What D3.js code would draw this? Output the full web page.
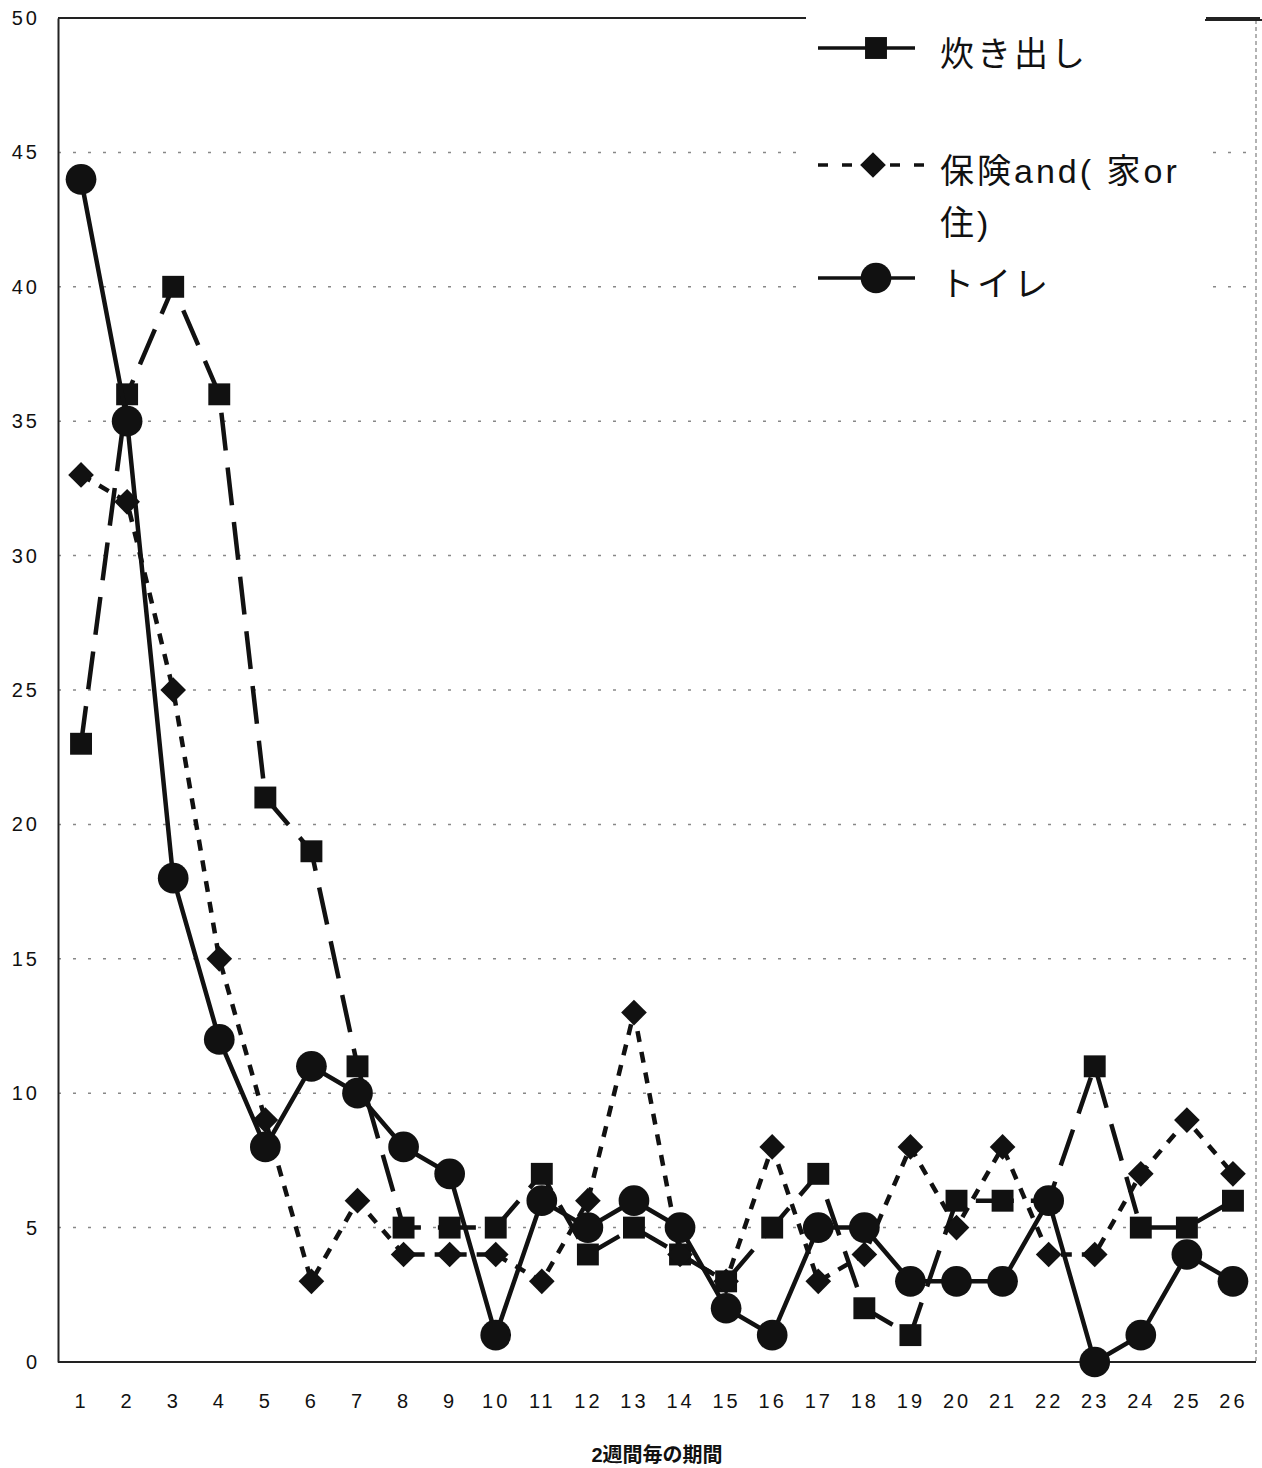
<!DOCTYPE html>
<html>
<head>
<meta charset="utf-8">
<script src="https://cdn.jsdelivr.net/npm/d3@7"></script>
<style>
  html, body { margin: 0; padding: 0; background: #fff; }
  svg { display: block; }
  text { font-family: "Liberation Sans", Arial, "Noto Sans CJK JP", sans-serif; fill: #111; }
  .jp { font-family: "Liberation Sans", Arial, "Noto Sans CJK JP", sans-serif; }
</style>
</head>
<body>
<svg id="chart" width="1262" height="1468"></svg>
<script>
// Periods (two-week intervals)
const periods = d3.range(1, 27);

// Series values per period
const takidashi = [23, 36, 40, 36, 21, 19, 11, 5, 5, 5, 7, 4, 5, 4, 3, 5, 7, 2, 1, 6, 6, 6, 11, 5, 5, 6];
const hoken     = [33, 32, 25, 15, 9, 3, 6, 4, 4, 4, 3, 6, 13, 4, 3, 8, 3, 4, 8, 5, 8, 4, 4, 7, 9, 7];
const toilet    = [44, 35, 18, 12, 8, 11, 10, 8, 7, 1, 6, 5, 6, 5, 2, 1, 5, 5, 3, 3, 3, 6, 0, 1, 4, 3];

const yTicks = [0, 5, 10, 15, 20, 25, 30, 35, 40, 45, 50];
const seriesNames = ["炊き出し", "保険and( 家or", "トイレ"];
const xTitle = "2週間毎の期間";

const svg = d3.select("#chart");
const plotL = 58, plotR = 1256, plotT = 18, plotB = 1362;

const x = d3.scalePoint().domain(periods).range([plotL, plotR]).padding(0.5);
const y = d3.scaleLinear().domain([0, 50]).range([plotB, plotT]);

// diamond marker: a square turned 45 degrees
const diamond = {
  draw(ctx, size) {
    const r = Math.sqrt(size / 2);
    ctx.moveTo(0, -r); ctx.lineTo(r, 0); ctx.lineTo(0, r); ctx.lineTo(-r, 0); ctx.closePath();
  }
};

// dotted horizontal gridlines
svg.append("g").selectAll("line")
  .data(yTicks.filter(d => d > 0 && d < 50))
  .join("line")
  .attr("x1", plotL).attr("x2", plotR)
  .attr("y1", d => y(d)).attr("y2", d => y(d))
  .attr("stroke", "#888").attr("stroke-width", 1.5)
  .attr("stroke-dasharray", "3,12");

// right border (faint dotted)
svg.append("line")
  .attr("x1", plotR).attr("x2", plotR).attr("y1", plotT + 2).attr("y2", plotB)
  .attr("stroke", "#999").attr("stroke-width", 1.5).attr("stroke-dasharray", "4,3");

// top border
svg.append("line")
  .attr("x1", plotL).attr("x2", plotR + 4).attr("y1", plotT).attr("y2", plotT)
  .attr("stroke", "#222").attr("stroke-width", 2);

// y axis
const yAxis = svg.append("g")
  .attr("transform", `translate(${plotL},0)`)
  .call(d3.axisLeft(y).tickValues(yTicks).tickSize(0).tickPadding(18));
yAxis.select(".domain").attr("stroke", "#222").attr("stroke-width", 2);
yAxis.selectAll("text")
  .style("font-size", "20px").style("letter-spacing", "3px")
  .attr("fill", "#111");

// x axis
const xAxis = svg.append("g")
  .attr("transform", `translate(0,${plotB})`)
  .call(d3.axisBottom(x).tickSize(0).tickPadding(32));
xAxis.select(".domain").attr("stroke", "#222").attr("stroke-width", 2)
  .attr("d", `M${plotL},0H${plotR}`);
xAxis.selectAll("text")
  .style("font-size", "20px").style("letter-spacing", "3px")
  .attr("fill", "#111");

// x axis title
svg.append("text")
  .attr("class", "jp")
  .attr("x", 657).attr("y", 1462)
  .attr("text-anchor", "middle")
  .style("font-size", "20px").style("font-weight", "bold")
  .text(xTitle);

const line = d3.line().x((d, i) => x(periods[i])).y(d => y(d));

const series = [
  { name: seriesNames[0], values: takidashi, dash: "38,17", symbol: d3.symbolSquare, size: 480 },
  { name: seriesNames[1], values: hoken,     dash: "11,10", symbol: diamond, size: 330 },
  { name: seriesNames[2], values: toilet,    dash: null,   symbol: d3.symbolCircle, size: 740 }
];

series.forEach(s => {
  const g = svg.append("g");
  g.append("path")
    .datum(s.values)
    .attr("d", line)
    .attr("fill", "none")
    .attr("stroke", "#111")
    .attr("stroke-width", 4.5)
    .attr("stroke-dasharray", s.dash);
  g.selectAll("path.m")
    .data(s.values)
    .join("path")
    .attr("class", "m")
    .attr("transform", (d, i) => `translate(${x(periods[i])},${y(d)})`)
    .attr("d", d3.symbol().type(s.symbol).size(s.size))
    .attr("fill", "#111");
});

// legend
const lg = svg.append("g");
lg.append("rect").attr("x", 806).attr("y", 8).attr("width", 400).attr("height", 312).attr("fill", "#fff");
const legendRows = [
  { y: 48, s: series[0], label: [seriesNames[0]] },
  { y: 165, s: series[1], label: [seriesNames[1], "住)"] },
  { y: 278, s: series[2], label: [seriesNames[2]] }
];
legendRows.forEach(r => {
  lg.append("line")
    .attr("x1", 818).attr("x2", r.s === series[1] ? 925 : 915).attr("y1", r.y).attr("y2", r.y)
    .attr("stroke", "#111").attr("stroke-width", 3.5)
    .attr("stroke-dasharray", r.s === series[1] ? "10,14" : null);
  lg.append("path")
    .attr("transform", `translate(${r.s === series[1] ? 873 : 876},${r.y})`)
    .attr("d", d3.symbol().type(r.s.symbol).size(r.s.size))
    .attr("fill", "#111");
  r.label.forEach((t, k) => {
    lg.append("text")
      .attr("class", "jp")
      .attr("x", 940).attr("y", r.y + 18 + k * 52)
      .style("font-size", "34px").style("letter-spacing", "3px")
      .text(t);
  });
});
// the top border continues to the right of the legend
svg.append("line")
  .attr("x1", 1205).attr("x2", 1262).attr("y1", plotT + 2).attr("y2", plotT + 2)
  .attr("stroke", "#222").attr("stroke-width", 2);
</script>
</body>
</html>
